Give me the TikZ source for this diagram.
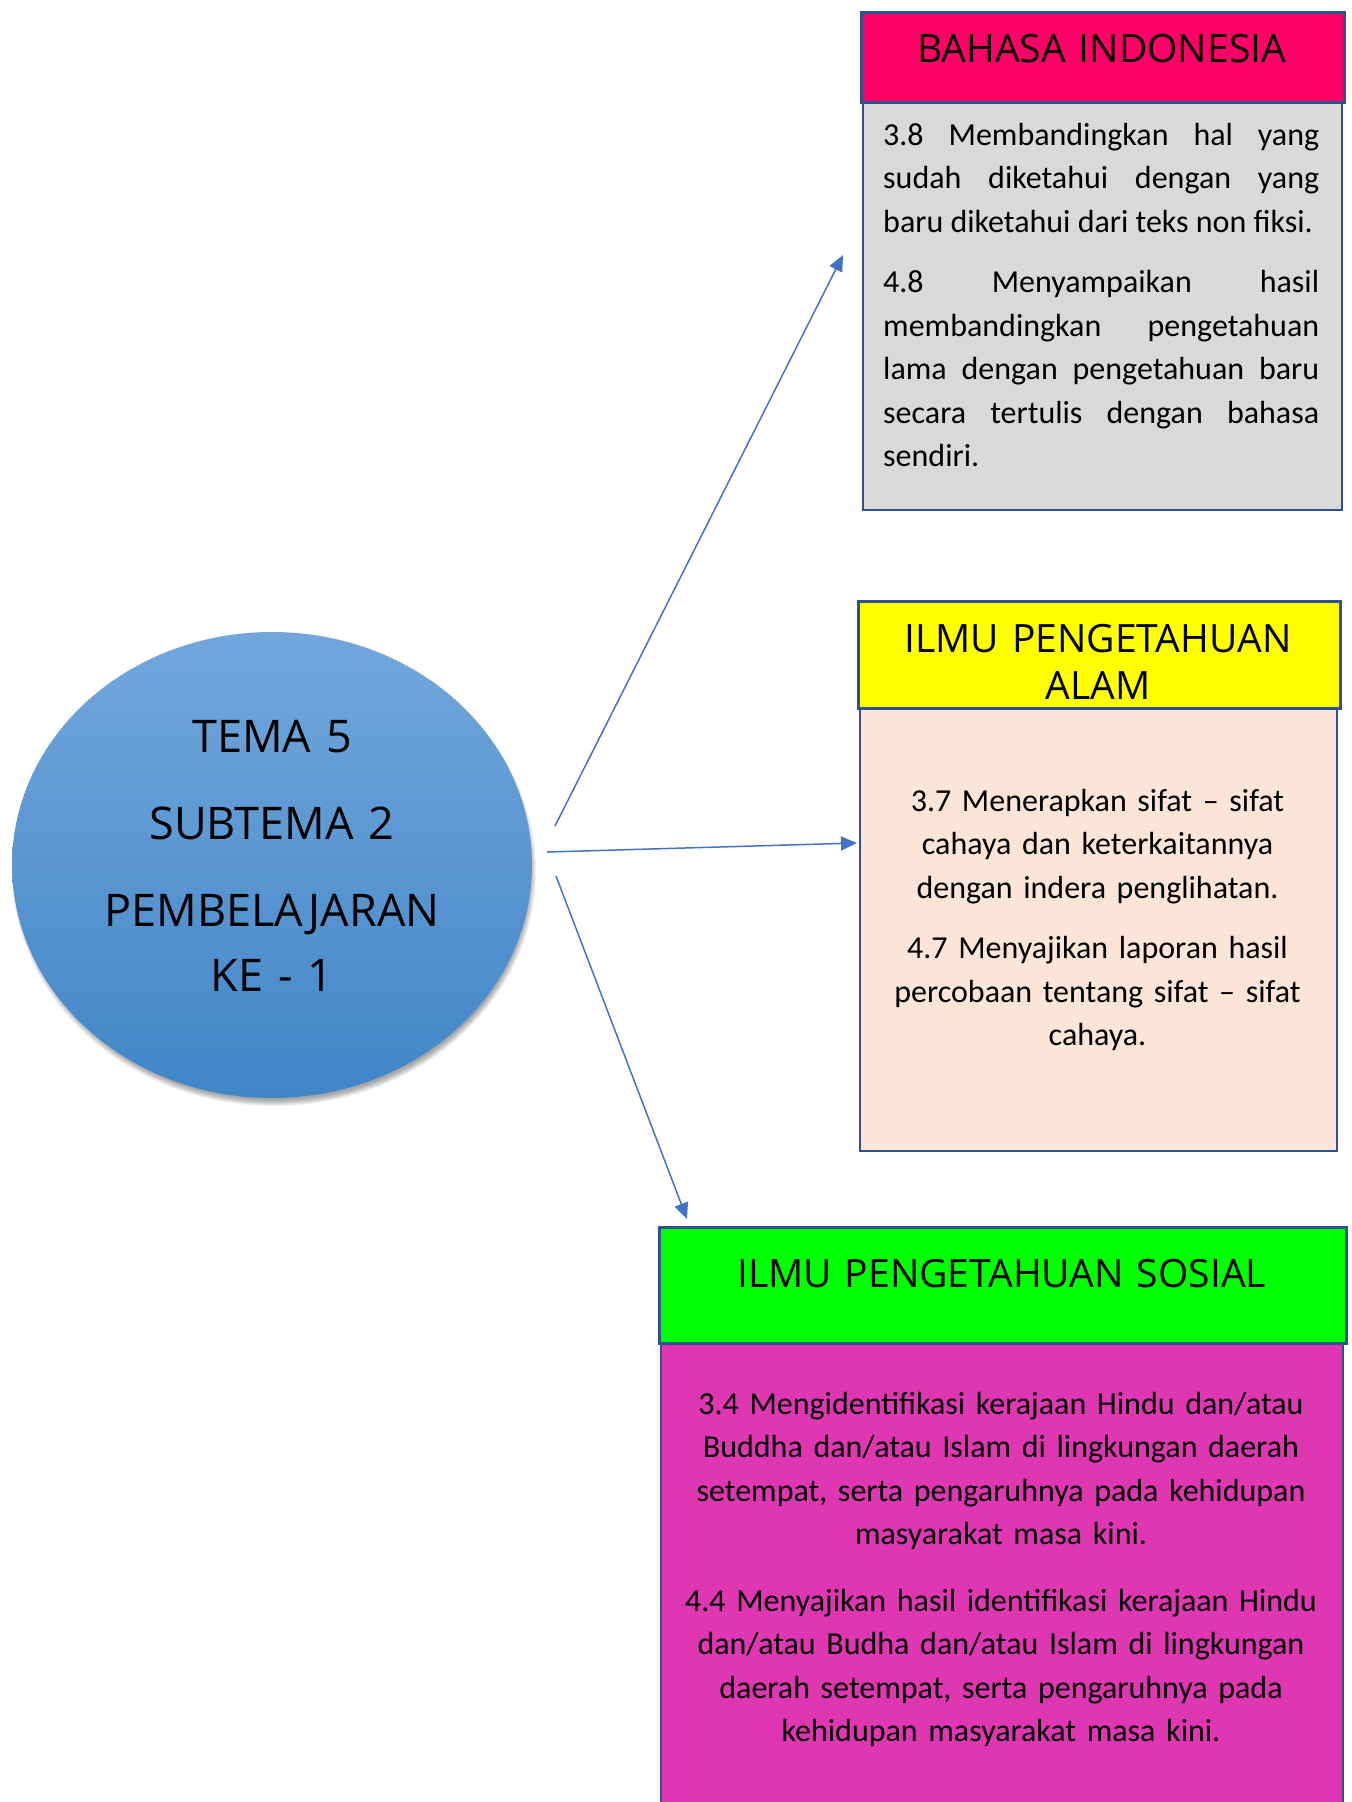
\documentclass[tikz,border=0pt]{standalone}
\usepackage{fontspec}
\setmainfont{Carlito}
\newfontfamily\headfont{Open Sans}
\usepackage{xcolor}
\usetikzlibrary{shapes.geometric,arrows.meta}

\definecolor{linkblue}{HTML}{4472C4}
\definecolor{edgeblue}{HTML}{2F528F}
\definecolor{circtop}{HTML}{72A7DC}
\definecolor{circbot}{HTML}{4186C8}
\definecolor{bipink}{HTML}{FF0066}
\definecolor{bigrey}{HTML}{D9D9D9}
\definecolor{ipayellow}{HTML}{FFFF00}
\definecolor{ipapeach}{HTML}{FBE5D6}
\definecolor{ipsgreen}{HTML}{00FF00}
\definecolor{ipsmagenta}{HTML}{DF36B2}

\tikzset{
    headbox/.style={draw=edgeblue, line width=2.5pt, inner sep=0pt, anchor=north west},
    bodybox/.style={draw=edgeblue, line width=2pt, inner sep=0pt, anchor=north west},
    headtext/.style={font=\headfont\fontsize{39}{47}\selectfont, align=center, text width=480pt, inner sep=0pt, anchor=base},
    bodytext/.style={font=\fontsize{32}{43.5}\selectfont, inner sep=0pt, anchor=base,
        execute at begin node={\setlength{\parindent}{0pt}\setlength{\parskip}{17pt}\tolerance=10000}},
    link/.style={draw=linkblue, line width=1.5pt, -{Triangle[length=16pt,width=14pt]}}
}

\begin{document}
\begin{tikzpicture}[x=1pt, y=-1pt]
    \useasboundingbox (0,0) rectangle (1352,1802);

    % Topic circle
    \begin{scope}
        \foreach \s in {1,...,7} {
            \fill [black, opacity=0.06] (274,871) ellipse ({255+\s} and {228+\s});
        }
        \node [ellipse, minimum width=520pt, minimum height=466pt, inner sep=0pt,
               top color=circtop, bottom color=circbot] (tema) at (272,865) {};
        \node [headtext, font=\headfont\fontsize{45}{65}\selectfont, text width=420pt,
               execute at begin node={\setlength{\parskip}{22pt}}] (temalabel) at (272,752)
            {TEMA 5\par SUBTEMA 2\par PEMBELAJARAN\\ KE - 1};
    \end{scope}

    % Bahasa Indonesia
    \begin{scope}
        \node [bodybox, fill=bigrey, minimum width=479pt, minimum height=408pt] (bibody) at (862,101) {};
        \node [headbox, fill=bipink, minimum width=483pt, minimum height=90pt] (bihead) at (860,11) {};
        \node [headtext] (bititle) at (1101.5,62) {BAHASA INDONESIA};
        \node [bodytext, anchor=base west, text width=436pt, align=justify] (bitext) at (883,145)
            {3.8 Membandingkan hal yang\linebreak sudah diketahui dengan yang\linebreak
             baru diketahui dari teks non fiksi.\par
             4.8 Menyampaikan hasil\linebreak membandingkan pengetahuan\linebreak
             lama dengan pengetahuan baru\linebreak secara tertulis dengan bahasa\linebreak sendiri.};
    \end{scope}

    % Ilmu Pengetahuan Alam
    \begin{scope}
        \node [bodybox, fill=ipapeach, minimum width=477pt, minimum height=443pt] (ipabody) at (859,707) {};
        \node [headbox, fill=ipayellow, minimum width=482pt, minimum height=107pt] (ipahead) at (857,600) {};
        \node [headtext] (ipatitle) at (1098,652) {ILMU PENGETAHUAN\\ ALAM};
        \node [bodytext, text width=470pt, align=center] (ipatext) at (1097.5,811)
            {3.7 Menerapkan sifat – sifat\\ cahaya dan keterkaitannya\\ dengan indera penglihatan.\par
             4.7 Menyajikan laporan hasil\\ percobaan tentang sifat – sifat\\ cahaya.};
    \end{scope}

    % Ilmu Pengetahuan Sosial
    \begin{scope}
        \node [bodybox, fill=ipsmagenta, minimum width=682pt, minimum height=480pt] (ipsbody) at (660,1342) {};
        \node [headbox, fill=ipsgreen, minimum width=687pt, minimum height=116pt] (ipshead) at (658,1226) {};
        \node [headtext, text width=680pt] (ipstitle) at (1001.5,1287) {ILMU PENGETAHUAN SOSIAL};
        \node [bodytext, text width=670pt, align=center,
               execute at begin node={\setlength{\parskip}{23pt}}] (ipstext) at (1001,1414)
            {3.4 Mengidentifikasi kerajaan Hindu dan/atau\\ Buddha dan/atau Islam di lingkungan daerah\\
             setempat, serta pengaruhnya pada kehidupan\\ masyarakat masa kini.\par
             4.4 Menyajikan hasil identifikasi kerajaan Hindu\\ dan/atau Budha dan/atau Islam di lingkungan\\
             daerah setempat, serta pengaruhnya pada\\ kehidupan masyarakat masa kini.};
    \end{scope}

    % Links
    \coordinate (from1) at (555,826);
    \coordinate (to1) at (843,255);
    \coordinate (from2) at (547,852);
    \coordinate (to2) at (857,843);
    \coordinate (from3) at (556,876);
    \coordinate (to3) at (687,1219);
    \draw [link] (from1) -- (to1);
    \draw [link] (from2) -- (to2);
    \draw [link] (from3) -- (to3);
\end{tikzpicture}
\end{document}
